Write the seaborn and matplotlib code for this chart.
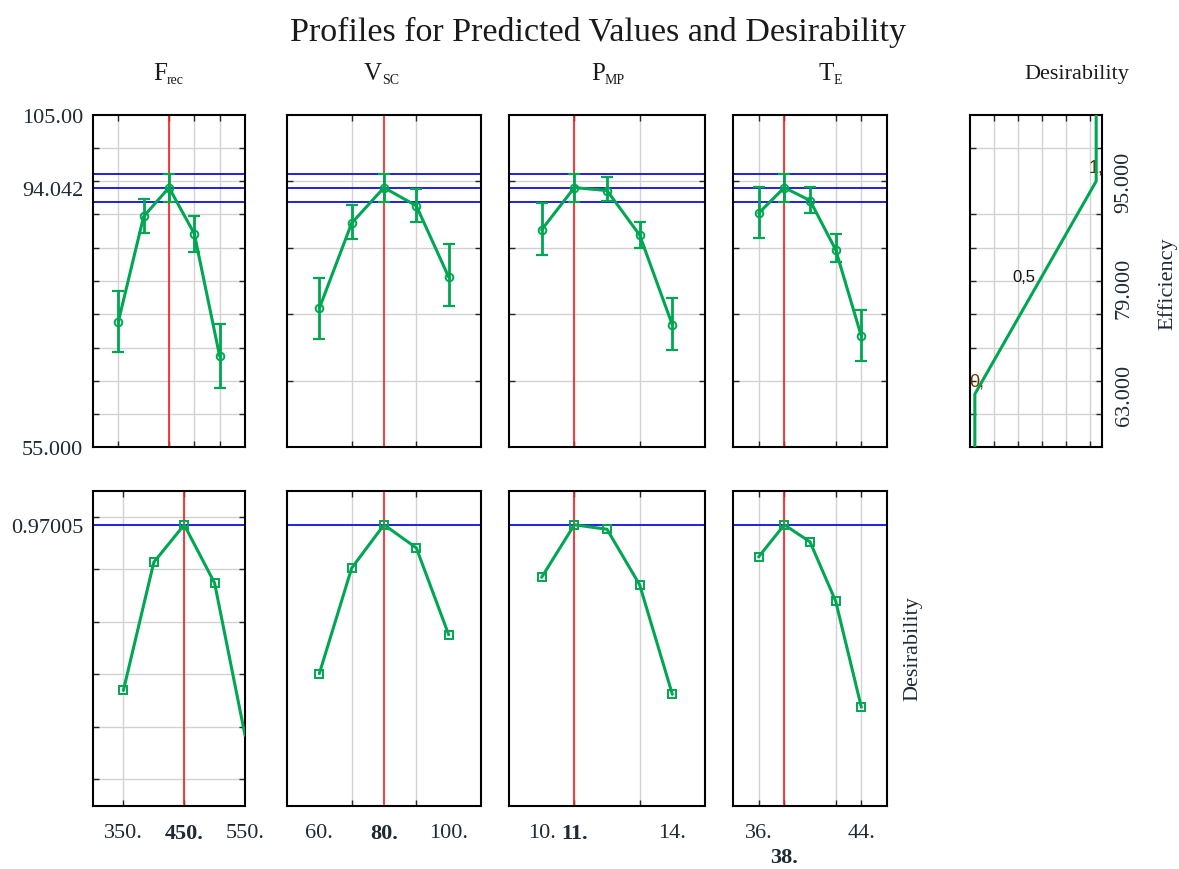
import numpy as np
import pandas as pd
import matplotlib
matplotlib.use("Agg")
import matplotlib.pyplot as plt
import matplotlib.transforms as mtransforms
import seaborn as sns

# ---------------- data ----------------
frec_levels = [350, 400, 450, 500, 550]
frec_eff = [73.9, 89.7, 94.042, 87.1, 68.7]
frec_lo = [69.3, 87.2, 91.95, 84.4, 63.95]
frec_hi = [78.5, 92.3, 96.15, 89.8, 73.5]
frec_des = [0.339, 0.827, 0.97005, 0.748, 0.168]

vsc_levels = [60, 70, 80, 90, 100]
vsc_eff = [75.9, 88.7, 94.042, 91.3, 80.6]
vsc_lo = [71.3, 86.3, 91.95, 88.8, 76.3]
vsc_hi = [80.4, 91.4, 96.15, 93.9, 85.6]
vsc_des = [0.403, 0.805, 0.97005, 0.882, 0.551]

pmp_levels = [10, 11, 12, 13, 14]
pmp_eff = [87.7, 94.042, 93.6, 86.9, 73.4]
pmp_lo = [83.9, 91.95, 92.0, 84.9, 69.6]
pmp_hi = [91.7, 96.15, 95.6, 88.9, 77.4]
pmp_des = [0.77, 0.97005, 0.953, 0.741, 0.324]

te_levels = [36, 38, 40, 42, 44]
te_eff = [90.2, 94.042, 92.1, 84.7, 71.7]
te_lo = [86.4, 91.95, 90.2, 82.8, 67.9]
te_hi = [94.2, 96.15, 94.2, 87.0, 75.7]
te_des = [0.848, 0.97005, 0.905, 0.679, 0.275]

current_values = [450, 80, 11, 38]
pred_eff = 94.042
pred_lo = 91.95
pred_hi = 96.15
pred_des = 0.97005

desfun_d = [0, 0, 1, 1]
desfun_eff = [55, 63, 95, 105]

factor_main = ["F", "V", "P", "T"]
factor_sub = ["rec", "SC", "MP", "E"]
bottom_labels = [
    [("350.", 350, False), ("450.", 450, True), ("550.", 550, False)],
    [("60.", 60, False), ("80.", 80, True), ("100.", 100, False)],
    [("10.", 10, False), ("11.", 11, True), ("14.", 14, False)],
    [("36.", 36, False), ("44.", 44, False), ("38.", 38, True)],
]

# ---------------- style ----------------
sns.set_style("white")
plt.rcParams["font.family"] = ["Liberation Serif", "DejaVu Serif"]

W, H = 1179, 870
fig = plt.figure(figsize=(W / 100, H / 100), dpi=100)
fig.patch.set_facecolor("white")

GREEN = "#00a651"
RED = "#ff1a1a"
BLUE = "#1010e0"
GRID = "#d2d2d2"
TXT = "#1e2a34"
FS = 16


def rect(x0, y0, x1, y1):
    return [x0 / W, 1 - y1 / H, (x1 - x0) / W, (y1 - y0) / H]


def style_axes(ax, xgrid, ygrid):
    ax.set_xticks(xgrid, minor=True)
    ax.set_yticks(ygrid, minor=True)
    ax.grid(which="minor", color=GRID, lw=1.0)
    ax.grid(which="major", visible=False)
    ax.set_axisbelow(True)
    ax.tick_params(which="minor", direction="in", length=4, width=1,
                   top=True, right=True, bottom=True, left=True)
    ax.tick_params(which="major", length=0, labelbottom=False, labelleft=False)
    for s in ax.spines.values():
        s.set_color("black")
        s.set_linewidth(1.5)
    ax.set_xlabel("")
    ax.set_ylabel("")


cols_x = [(93, 245), (287, 481), (509, 705), (733, 887)]
top_y = (115.7, 448.3)
bot_y = (491.7, 806.5)

top_xlims = [(300, 600), (50, 110), (9, 15), (34, 46)]
bot_xlims = [(300, 550), (50, 110), (9, 15), (34, 46)]
top_xgrid = [[350, 400, 450, 500, 550], [60, 70, 80, 90, 100], [10, 11, 12, 13, 14], [36, 38, 40, 42, 44]]
bot_xgrid = [[350, 400, 450, 500], [60, 70, 80, 90, 100], [10, 11, 12, 13, 14], [36, 38, 40, 42, 44]]

levels = [frec_levels, vsc_levels, pmp_levels, te_levels]
effs = [frec_eff, vsc_eff, pmp_eff, te_eff]
los = [frec_lo, vsc_lo, pmp_lo, te_lo]
his = [frec_hi, vsc_hi, pmp_hi, te_hi]
dess = [frec_des, vsc_des, pmp_des, te_des]

for i in range(4):
    x0, x1 = cols_x[i]
    # ---- top row: predicted efficiency ----
    ax = fig.add_axes(rect(x0, top_y[0], x1, top_y[1]))
    df = pd.DataFrame({"x": levels[i], "y": effs[i]})
    lo = np.array(los[i]); hi = np.array(his[i]); y = np.array(effs[i])
    for yy in (pred_hi, pred_eff, pred_lo):
        ax.axhline(yy, color=BLUE, lw=1.3, zorder=2)
    ax.axvline(current_values[i], color=RED, lw=1.2, zorder=2)
    ax.errorbar(levels[i], y, yerr=[y - lo, hi - y], fmt="none", ecolor=GREEN,
                elinewidth=2, capsize=4, capthick=1.6, zorder=3)
    sns.lineplot(data=df, x="x", y="y", ax=ax, color=GREEN, lw=2.2,
                 marker="o", markersize=5.5, markerfacecolor="none",
                 markeredgecolor=GREEN, markeredgewidth=1.4, zorder=4)
    ax.set_xlim(*top_xlims[i])
    ax.set_ylim(55, 105)
    style_axes(ax, top_xgrid[i], np.arange(60, 101, 5))
    if i == 0:
        ax.set_yticks([55, pred_eff, 105], labels=["55.000", "94.042", "105.00"])
        ax.tick_params(which="major", labelleft=True, pad=7, labelsize=FS, labelcolor=TXT)

    # ---- bottom row: desirability ----
    ax2 = fig.add_axes(rect(x0, bot_y[0], x1, bot_y[1]))
    df2 = pd.DataFrame({"x": levels[i], "d": dess[i]})
    ax2.axhline(pred_des, color=BLUE, lw=1.3, zorder=2)
    ax2.axvline(current_values[i], color=RED, lw=1.2, zorder=2)
    mk = [0, 1, 2, 3] if i == 0 else None
    sns.lineplot(data=df2, x="x", y="d", ax=ax2, color=GREEN, lw=2.2,
                 marker="s", markersize=6, markerfacecolor="none",
                 markeredgecolor=GREEN, markeredgewidth=1.4, markevery=mk, zorder=4)
    ax2.set_xlim(*bot_xlims[i])
    ax2.set_ylim(-0.1, 1.1)
    style_axes(ax2, bot_xgrid[i], np.arange(0, 1.01, 0.2))
    if i == 0:
        ax2.set_yticks([pred_des], labels=["0.97005"])
        ax2.tick_params(which="major", labelleft=True, pad=7, labelsize=FS, labelcolor=TXT)
    trans = mtransforms.blended_transform_factory(ax2.transData, ax2.transAxes)
    for lab, xv, bold in bottom_labels[i]:
        yoff = -0.086
        if i == 3 and lab == "38.":
            yoff = -0.163
        ax2.text(xv, yoff, lab, transform=trans, ha="center", va="center",
                 fontsize=FS, color=TXT, fontweight="bold" if bold else "normal",
                 clip_on=False)

# ---- desirability function panel ----
ax5 = fig.add_axes(rect(970, top_y[0], 1102, top_y[1]))
df5 = pd.DataFrame({"d": desfun_d, "eff": desfun_eff})
sns.lineplot(data=df5, x="d", y="eff", ax=ax5, color=GREEN, lw=2.2, sort=False,
             estimator=None, zorder=4)
ax5.set_xlim(-0.04, 1.048)
ax5.set_ylim(55, 105)
style_axes(ax5, [0.157, 0.357, 0.553, 0.752, 0.952], np.arange(60, 101, 5))
ax5.yaxis.tick_right()
ax5.set_yticks([63, 79, 95], labels=["63.000", "79.000", "95.000"])
ax5.tick_params(which="major", labelright=True, labelleft=False, length=0, pad=9,
                labelsize=FS, labelcolor=TXT)
ax5.tick_params(which="minor", left=True, right=True)
for t in ax5.get_yticklabels():
    t.set_rotation(90)
    t.set_va("center")
ax5.text(-0.045, 64.9, "0,", fontsize=13, color="#7a3300", ha="left", va="center",
         family=["Liberation Sans", "DejaVu Sans"])
ax5.text(0.5, 80.7, "0,5", fontsize=12, color="#111111", ha="right", va="center",
         family=["Liberation Sans", "DejaVu Sans"])
ax5.text(0.935, 97.2, "1,", fontsize=13, color="#5a2a00", ha="left", va="center",
         family=["Liberation Sans", "DejaVu Sans"])

# ---- titles & labels ----
def ftext(x, y, s, **kw):
    return fig.text(x / W, 1 - y / H, s, **kw)

ftext(598, 32, "Profiles for Predicted Values and Desirability", fontsize=24.5,
      ha="center", va="center", color="#1a1a1a")
title_x = [169, 384, 607, 836]
for tx, m, s in zip(title_x, factor_main, factor_sub):
    ftext(tx - 2, 74, m, fontsize=18, ha="right", va="center", color="#1a1a1a")
    ftext(tx - 2, 80, s, fontsize=10, ha="left", va="center", color="#1a1a1a")
ftext(1077, 74, "Desirability", fontsize=FS, ha="center", va="center", color="#1a1a1a")
ftext(1167, 284, "Efficiency", fontsize=FS, rotation=90, ha="center", va="center", color=TXT)
ftext(913, 649, "Desirability", fontsize=FS, rotation=90, ha="center", va="center", color=TXT)

fig.savefig("out.png", dpi=100, facecolor="white")
